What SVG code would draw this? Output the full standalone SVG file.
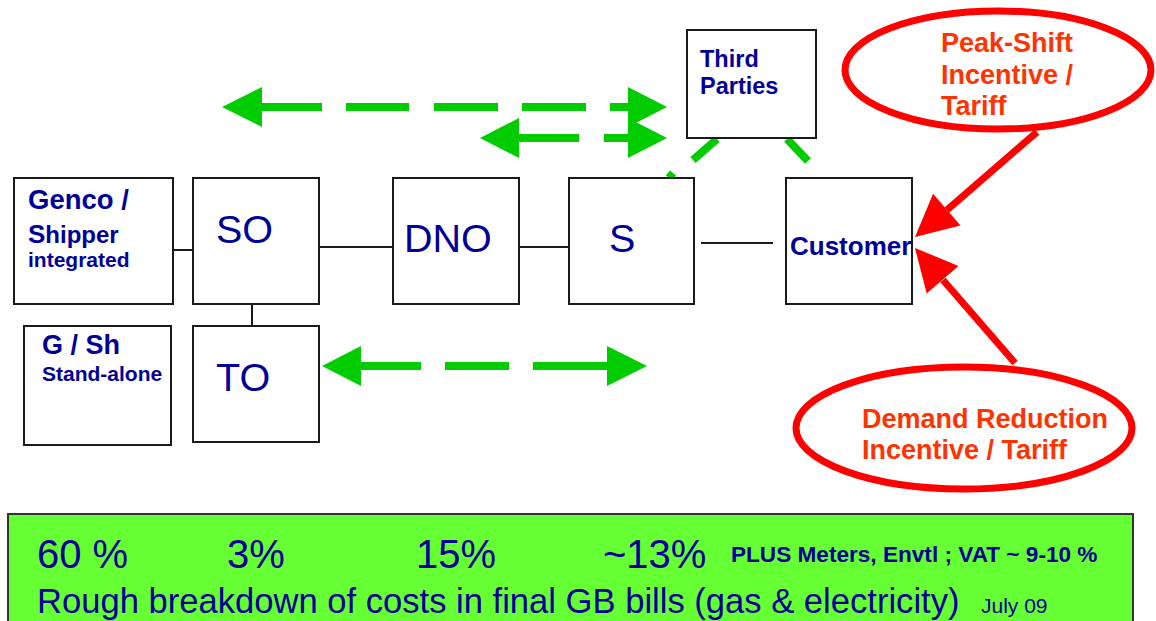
<svg xmlns="http://www.w3.org/2000/svg" width="1156" height="621" viewBox="0 0 1156 621">
<style>
.box{fill:#fff;stroke:#1a1a1a;stroke-width:2}
.ln{stroke:#1a1a1a;stroke-width:2;fill:none}
.g{stroke:#00cc00;stroke-width:8;fill:none}
.gh{fill:#00cc00}
.blue{fill:#000099;font-family:"Liberation Sans",Arial,sans-serif}
.b{font-weight:bold}
.red{fill:#ff3300;font-family:"Liberation Sans",Arial,sans-serif;font-weight:bold;font-size:27px}
.ell{fill:#fff;stroke:#ff0000;stroke-width:7}
.rl{stroke:#ff0000;stroke-width:7;fill:none}
.rh{fill:#ff0000}
</style>
<rect width="1156" height="621" fill="#fff"/>
<g id="connectors">
<line class="ln" x1="173" y1="250" x2="197" y2="250"/>
<line class="ln" x1="252" y1="304" x2="252" y2="326"/>
<line class="ln" x1="320" y1="247" x2="393" y2="247"/>
<line class="ln" x1="519" y1="247" x2="569" y2="247"/>
<line class="ln" x1="701" y1="243" x2="773" y2="243"/>
<line class="g" x1="260" y1="107" x2="322" y2="107"/>
<line class="g" x1="346" y1="107" x2="409" y2="107"/>
<line class="g" x1="434" y1="107" x2="498" y2="107"/>
<line class="g" x1="522" y1="107" x2="586" y2="107"/>
<line class="g" x1="610" y1="107" x2="630" y2="107"/>
<polygon class="gh" points="222,107 262,87 262,127"/>
<polygon class="gh" points="667,107 628,87 628,127"/>
<line class="g" x1="517" y1="138" x2="579" y2="138"/>
<line class="g" x1="604" y1="138" x2="630" y2="138"/>
<polygon class="gh" points="480,138 519,118 519,158"/>
<polygon class="gh" points="667,138 628,118 628,158"/>
<line class="g" x1="359" y1="366" x2="421" y2="366"/>
<line class="g" x1="445" y1="366" x2="509" y2="366"/>
<line class="g" x1="533" y1="366" x2="609" y2="366"/>
<polygon class="gh" points="322,366 361,346 361,386"/>
<polygon class="gh" points="647,366 607,346 607,386"/>
<line class="g" stroke-width="7" x1="717" y1="139" x2="693" y2="160"/>
<line class="g" stroke-width="7" x1="673" y1="173" x2="669" y2="178"/>
<line class="g" stroke-width="7" x1="787" y1="139" x2="808" y2="161"/>
<line class="rl" x1="1037" y1="132" x2="947" y2="210"/>
<polygon class="rh" points="915,237 960.5,225.5 933.1,193.7"/>
<line class="rl" x1="1015" y1="363" x2="943" y2="280"/>
<polygon class="rh" points="915,248 958.5,265.9 926.7,293.5"/>
</g>
<g id="genco">
<rect class="box" x="14" y="178" width="159" height="126"/>
<text class="blue b" x="28" y="209" font-size="27.5">Genco /</text>
<text class="blue b" x="28" y="243" font-size="24"><tspan font-size="26">S</tspan>hipper</text>
<text class="blue b" x="28" y="267" font-size="21">integrated</text>
</g>
<g id="so">
<rect class="box" x="193" y="178" width="126" height="126"/>
<text class="blue" x="216" y="243" font-size="39.5">SO</text>
</g>
<g id="dno">
<rect class="box" x="393" y="178" width="126" height="126"/>
<text class="blue" x="404" y="252" font-size="39.5">DNO</text>
</g>
<g id="s">
<rect class="box" x="569" y="178" width="125" height="126"/>
<text class="blue" x="609" y="252" font-size="39.5">S</text>
</g>
<g id="customer">
<rect class="box" x="786" y="178" width="126" height="126"/>
<text class="blue b" x="790" y="255" font-size="26">Customer</text>
</g>
<g id="third-parties">
<rect class="box" x="687" y="30" width="129" height="108"/>
<text class="blue b" x="700" y="67" font-size="23.5">Third</text>
<text class="blue b" x="700" y="94" font-size="23.5">Parties</text>
</g>
<g id="gsh">
<rect class="box" x="24" y="326" width="147" height="119"/>
<text class="blue b" x="42" y="354" font-size="27">G / Sh</text>
<text class="blue b" x="42" y="381" font-size="21">Stand-alone</text>
</g>
<g id="to">
<rect class="box" x="193" y="326" width="126" height="116"/>
<text class="blue" x="216" y="391" font-size="39.5">TO</text>
</g>
<g id="peak-shift">
<ellipse class="ell" cx="998" cy="70" rx="153" ry="59"/>
<text class="red" x="941" y="52">Peak-Shift</text>
<text class="red" x="941" y="84">Incentive /</text>
<text class="red" x="941" y="115">Tariff</text>
</g>
<g id="demand-reduction">
<ellipse class="ell" cx="964" cy="428" rx="168" ry="61"/>
<text class="red" x="862" y="428">Demand Reduction</text>
<text class="red" x="862" y="459">Incentive / Tariff</text>
</g>
<g id="cost-breakdown">
<rect x="8" y="514" width="1125" height="112" fill="#66ff33" stroke="#333" stroke-width="2"/>
<text class="blue" x="37" y="568" font-size="40">60 %</text>
<text class="blue" x="227" y="568" font-size="40">3%</text>
<text class="blue" x="416" y="568" font-size="40">15%</text>
<text class="blue" x="603" y="568" font-size="40">~13%</text>
<text class="blue b" x="731" y="562" font-size="22.6">PLUS Meters, Envtl ; VAT ~ 9-10 %</text>
<text class="blue" x="37" y="613" font-size="34.6">Rough breakdown of costs in final GB bills (gas &amp; electricity)</text>
<text class="blue" x="981" y="613" font-size="21">July 09</text>
</g>
</svg>
